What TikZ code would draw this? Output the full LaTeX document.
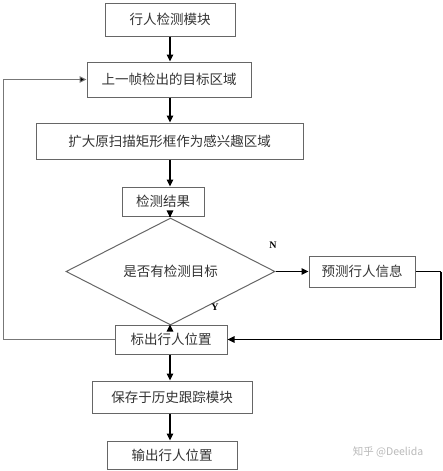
\documentclass[tikz,border=0pt]{standalone}
\usepackage{fontspec}
\newfontfamily\cjk{Noto Sans CJK SC}
\newfontfamily\serifb{Liberation Serif}
\usetikzlibrary{shapes.geometric,arrows.meta,calc}
\definecolor{txt}{HTML}{333333}
\definecolor{bord}{HTML}{666666}
\definecolor{loopc}{HTML}{777777}
\tikzset{
  box/.style={draw=bord, line width=1pt, rectangle, inner sep=0pt, text=txt, font=\cjk\fontsize{13.5}{15}\selectfont},
  dia/.style={draw=bord, line width=1pt, diamond, inner sep=0pt, text=txt, font=\cjk\fontsize{13.5}{15}\selectfont},
  arr/.style={draw=black, line width=1.4pt, -{Triangle[length=7pt,width=6.5pt]}},
  thinarr/.style={draw=loopc, line width=1pt, -{Triangle[length=7pt,width=6.5pt,fill=black]}},
  lab/.style={font=\serifb\bfseries\fontsize{10}{12}\selectfont, text=black}
}
\begin{document}
\begin{tikzpicture}[x=1pt,y=1pt]
\useasboundingbox (0,0) rectangle (443,-471);
\node[box, minimum width=130pt, minimum height=33pt] (b1) at (170,-19.5) {行人检测模块};
\node[box, minimum width=164pt, minimum height=35pt] (b2) at (169,-79.5) {上一帧检出的目标区域};
\node[box, minimum width=267pt, minimum height=36pt] (b3) at (169.5,-141) {扩大原扫描矩形框作为感兴趣区域};
\node[box, minimum width=82pt, minimum height=29pt] (b4) at (163,-201.5) {检测结果};
\node[dia, minimum width=209pt, minimum height=53pt] (d) at (170.5,-271.5) {是否有检测目标};
\node[box, minimum width=106pt, minimum height=31pt] (pr) at (362,-271.5) {预测行人信息};
\node[box, minimum width=112pt, minimum height=29pt] (b6) at (171,-339.5) {标出行人位置};
\node[box, minimum width=160pt, minimum height=32pt] (b7) at (172,-397) {保存于历史跟踪模块};
\node[box, minimum width=130pt, minimum height=28pt] (b8) at (172,-455) {输出行人位置};
\node[lab] (n) at (273,-245) {N};
\node[lab] (y) at (215,-307) {Y};
\node[text=gray!55, font=\cjk\fontsize{10.5}{12}\selectfont] (wm) at (388,-452) {知乎 @Deelida};
\coordinate (axis) at (170,0);
\coordinate (rc) at (441,-271.5);
\coordinate (lc) at (3,-339.5);
\draw[arr] (b1.south -| axis) -- (b2.north -| axis);
\draw[arr] (b2.south -| axis) -- (b3.north -| axis);
\draw[arr] (b3.south -| axis) -- (b4.north -| axis);
\draw[arr] (b4.south -| axis) -- (d.north -| axis);
\draw[arr] (d.east) -- (pr.west);
\draw[arr] (d.south -| axis) -- (b6.north -| axis);
\draw[arr] (b6.south -| axis) -- (b7.north -| axis);
\draw[arr] (b7.south -| axis) -- (b8.north -| axis);
\draw[line width=1pt] (pr.east) -- (rc);
\draw[arr] (rc) |- (b6.east);
\draw[thinarr] (b6.west) -- (lc) |- (b2.west);
\end{tikzpicture}
\end{document}
